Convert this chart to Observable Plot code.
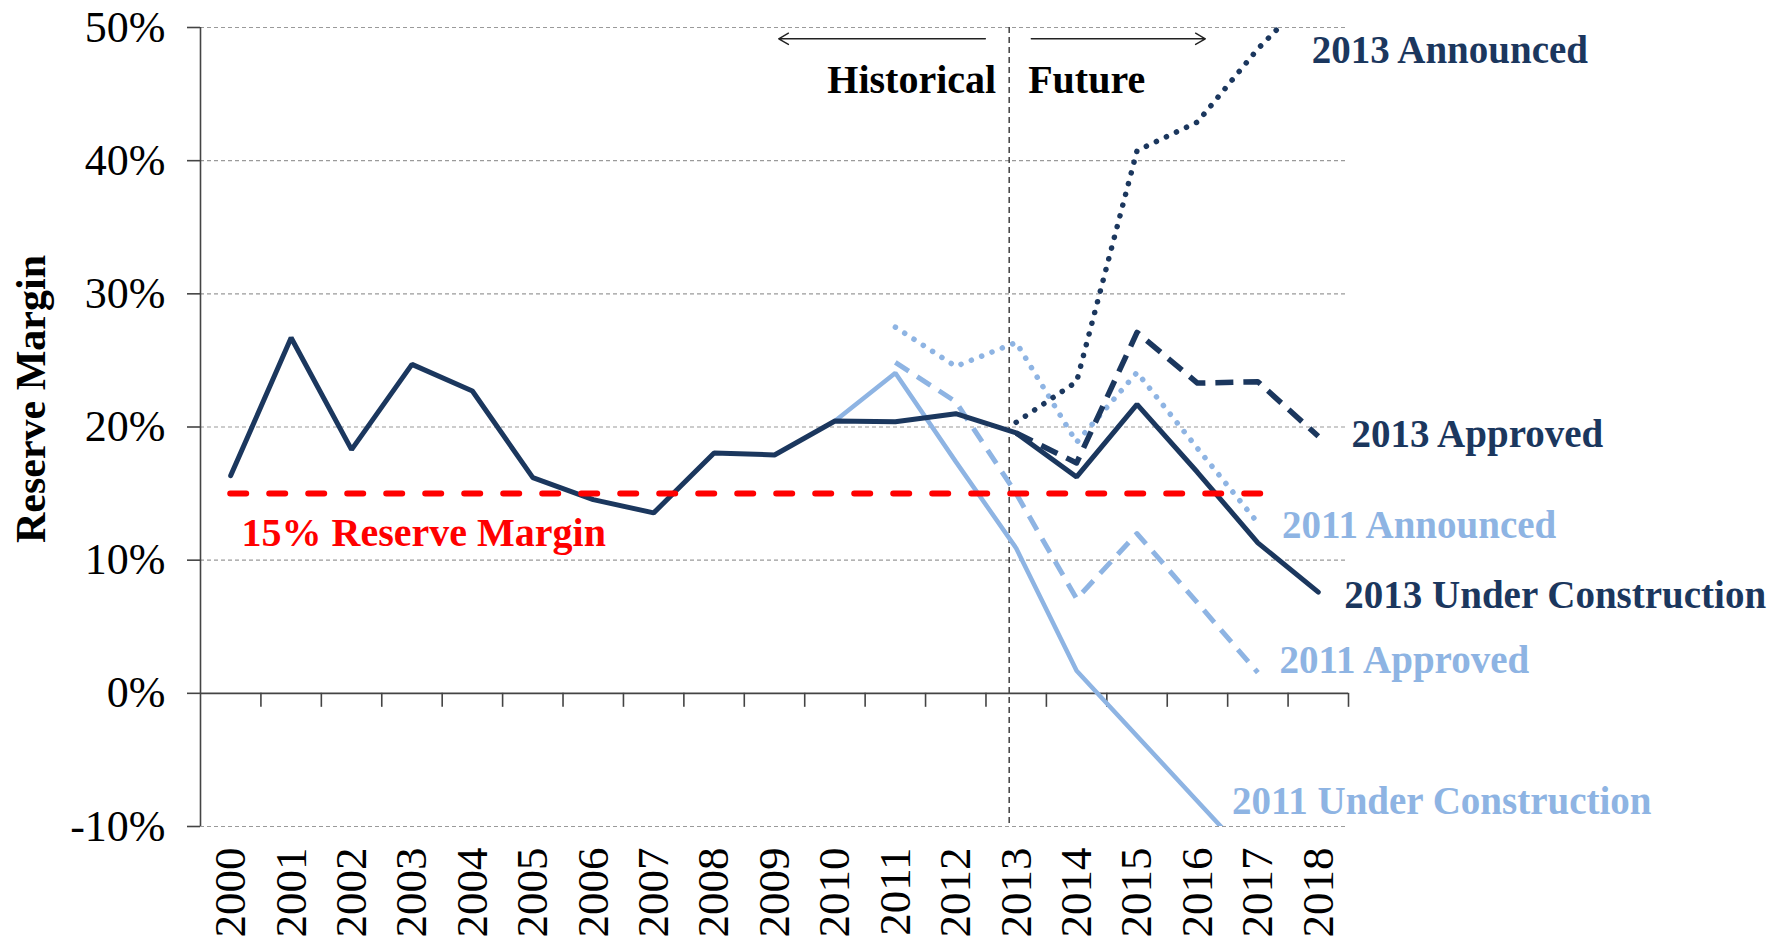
<!DOCTYPE html>
<html>
<head>
<meta charset="utf-8">
<script src="https://cdn.jsdelivr.net/npm/d3@7"></script>
<script src="https://cdn.jsdelivr.net/npm/@observablehq/plot@0.6"></script>
<style>
  html, body { margin: 0; padding: 0; background: #fff; }
  svg { display: block; }
</style>
</head>
<body>
<div id="chart"></div>
<script>
// ---------- data ----------
const years = [2000, 2001, 2002, 2003, 2004, 2005, 2006, 2007, 2008, 2009,
               2010, 2011, 2012, 2013, 2014, 2015, 2016, 2017, 2018];
const yTicks = [-10, 0, 10, 20, 30, 40, 50];
const gridValues = [-10, 10, 20, 30, 40, 50];

// 2013 Under Construction (historical + forecast), 2000-2018
const uc2013 = [16.35, 26.7, 18.3, 24.7, 22.7, 16.2, 14.55, 13.55, 18.05, 17.9,
                20.45, 20.4, 21.0, 19.55, 16.25, 21.7, 16.6, 11.3, 7.6];
// 2013 Approved, 2013-2018
const approved2013Years = [2013, 2014, 2015, 2016, 2017, 2018];
const approved2013 = [19.55, 17.3, 27.1, 23.3, 23.4, 19.3];
// 2013 Announced, 2013-2018
const announced2013Years = [2013, 2014, 2015, 2016, 2017, 2018];
const announced2013 = [20.35, 23.4, 40.75, 42.9, 48.4, 53.0];
// 2011 Under Construction, 2010-2017
const uc2011Years = [2010, 2011, 2012, 2013, 2014, 2015, 2016, 2017];
const uc2011 = [20.45, 24.05, 17.4, 10.9, 1.7, -3.2, -8.1, -13.0];
// 2011 Approved, 2011-2017
const approved2011Years = [2011, 2012, 2013, 2014, 2015, 2016, 2017];
const approved2011 = [24.85, 21.9, 15.0, 7.1, 12.0, 6.8, 1.55];
// 2011 Announced, 2011-2017
const announced2011Years = [2011, 2012, 2013, 2014, 2015, 2016, 2017];
const announced2011 = [27.5, 24.55, 26.35, 18.85, 24.1, 18.4, 12.8];

const reserveTarget = 15;
const targetSpan = [2000, 2017.2];
const divideYear = 2013;

// annotation anchors (data units)
const seriesLabels = [
  {text: "2013 Announced", x: 2017.89, y: 48.3, group: "navy"},
  {text: "2013 Approved", x: 2018.55, y: 19.4, group: "navy"},
  {text: "2013 Under Construction", x: 2018.43, y: 7.35, group: "navy"},
  {text: "2011 Announced", x: 2017.40, y: 12.6, group: "light"},
  {text: "2011 Approved", x: 2017.36, y: 2.5, group: "light"},
  {text: "2011 Under Construction", x: 2016.57, y: -8.15, group: "light"}
];
const targetLabel = [{text: "15% Reserve Margin", x: 2000.18, y: 12.0}];
const arrows = [
  {x1: 2012.49, x2: 2009.07, y: 49.15},
  {x1: 2013.25, x2: 2016.13, y: 49.15}
];
const historicalLabel = [{text: "Historical", x: divideYear, y: 46.05}];
const futureLabel = [{text: "Future", x: divideYear, y: 46.05}];

// ---------- helpers ----------
const rows = (xs, vs) => xs.map((x, i) => ({year: x, value: vs[i]}));
const NAVY = "#1B375E";
const LIGHT = "#8EB4E3";
const RED = "#FF0000";
const xBoundaries = years.map(y => y + 0.5);

const chart = Plot.plot({
  width: 1783,
  height: 945,
  marginLeft: 200,
  marginRight: 435,
  marginTop: 27,
  marginBottom: 119,
  style: {fontFamily: "'Liberation Serif', 'Times New Roman', serif", background: "#fff", color: "#000"},
  x: {type: "linear", domain: [1999.5, 2018.5], axis: null},
  y: {domain: [-10, 50], axis: null},
  marks: [
    // gridlines
    Plot.ruleY(gridValues, {stroke: "#9a9a9a", strokeWidth: 1.2, strokeDasharray: "4,3"}),
    // historical / future divide
    Plot.ruleX([divideYear], {dx: -7, stroke: "#333", strokeWidth: 1.4, strokeDasharray: "6,4"}),
    // y axis line
    Plot.ruleX([1999.5], {stroke: "#444", strokeWidth: 1.6}),
    // x axis at 0%
    Plot.ruleY([0], {stroke: "#444", strokeWidth: 1.6}),
    // x tick marks at category boundaries
    Plot.ruleX(xBoundaries, {y1: 0, y2: 0, insetBottom: -14, stroke: "#444", strokeWidth: 1.6}),
    // y axis ticks and labels
    Plot.axisY({
      ticks: yTicks,
      tickFormat: d => `${d}%`,
      tickSize: 13,
      tickPadding: 22,
      fontSize: 44,
      label: null,
      stroke: "#444",
      strokeWidth: 1.6
    }),
    // year labels
    Plot.text(years, {
      x: d => d, y: -10, text: d => String(d),
      rotate: -90, textAnchor: "end", dy: 21,
      fontSize: 45, fill: "#000"
    }),
    // y axis title
    Plot.text(["Reserve Margin"], {
      frameAnchor: "left", textAnchor: "middle", dx: -169, dy: -28, rotate: -90,
      fontSize: 42, fontWeight: "bold", fill: "#000"
    }),

    // 2011 series (light blue)
    Plot.line(rows(uc2011Years, uc2011), {x: "year", y: "value", stroke: LIGHT, strokeWidth: 4.5, clip: true, strokeLinejoin: "miter"}),
    Plot.line(rows(approved2011Years, approved2011), {x: "year", y: "value", stroke: LIGHT, strokeWidth: 5, strokeDasharray: "16,10", strokeLinecap: "butt", clip: true}),
    Plot.line(rows(announced2011Years, announced2011), {x: "year", y: "value", stroke: LIGHT, strokeWidth: 5.5, strokeDasharray: "0.1,11", strokeLinecap: "round", clip: true}),

    // 2013 series (navy)
    Plot.line(rows(announced2013Years, announced2013), {x: "year", y: "value", stroke: NAVY, strokeWidth: 5.5, strokeDasharray: "0.1,11", strokeLinecap: "round", clip: true}),
    Plot.line(rows(approved2013Years, approved2013), {x: "year", y: "value", stroke: NAVY, strokeWidth: 5.5, strokeDasharray: "18,10", strokeLinecap: "butt", clip: true}),
    Plot.line(rows(years, uc2013), {x: "year", y: "value", stroke: NAVY, strokeWidth: 5, clip: true, strokeLinejoin: "miter"}),

    // 15% reserve margin target
    Plot.ruleY([reserveTarget], {x1: targetSpan[0], x2: targetSpan[1], stroke: RED, strokeWidth: 6, strokeDasharray: "16,23", strokeLinecap: "round"}),
    Plot.text(targetLabel, {x: "x", y: "y", text: "text", textAnchor: "start", fontSize: 40, fontWeight: "bold", fill: RED}),

    // series labels
    Plot.text(seriesLabels, {
      x: "x", y: "y", text: "text", textAnchor: "start",
      fontSize: 39, fontWeight: "bold",
      fill: d => d.group === "navy" ? NAVY : LIGHT
    }),

    // historical / future annotation
    Plot.arrow(arrows, {x1: "x1", x2: "x2", y1: "y", y2: "y", stroke: "#222", strokeWidth: 1.4, headLength: 12, headAngle: 60}),
    Plot.text(historicalLabel, {x: "x", y: "y", text: "text", textAnchor: "end", dx: -20, fontSize: 40, fontWeight: "bold", fill: "#000"}),
    Plot.text(futureLabel, {x: "x", y: "y", text: "text", textAnchor: "start", dx: 12, fontSize: 40, fontWeight: "bold", fill: "#000"})
  ]
});

document.getElementById("chart").appendChild(chart);
</script>
</body>
</html>
